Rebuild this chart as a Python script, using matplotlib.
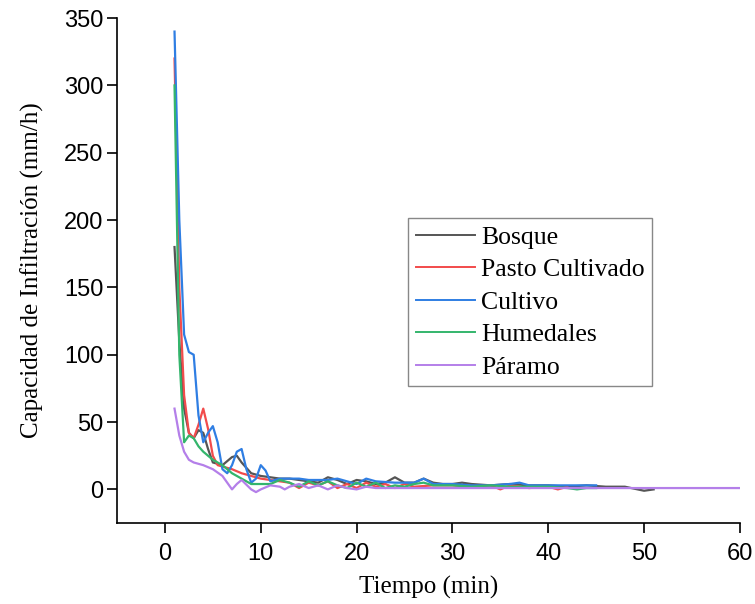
import matplotlib
matplotlib.use("Agg")
import matplotlib.pyplot as plt

# tiempo (min) y capacidad de infiltración (mm/h)
x_bosque = [1, 1.5, 2, 2.5, 3, 3.5, 4, 4.5, 5, 6, 7, 7.5, 8, 9, 10, 11, 12, 13, 14, 15, 16, 17, 18, 19,
            20, 21, 22, 23, 24, 25, 26, 27, 28, 29, 30, 31, 32, 34, 36, 38, 40, 42, 44, 46, 48, 50, 51]
y_bosque = [180, 110, 60, 42, 38, 44, 42, 30, 20, 18, 24, 25, 20, 12, 10, 9, 8, 8, 7, 6, 5, 9, 7, 4,
            7, 6, 4, 5, 9, 5, 5, 8, 5, 4, 4, 5, 4, 3, 4, 3, 3, 2, 3, 2, 2, -1, 0]

x_pasto = [1, 1.5, 2, 2.5, 3, 3.5, 4, 4.5, 5, 5.5, 6, 7, 8, 9, 10, 11, 12, 13, 14, 15, 16, 17, 18, 19,
           20, 21, 22, 23, 24, 25, 26, 28, 30, 32, 34, 35, 36, 38, 40, 41, 42]
y_pasto = [320, 150, 70, 42, 38, 48, 60, 45, 25, 18, 17, 15, 12, 10, 8, 7, 6, 5, 1, 5, 3, 6, 1, 4,
           1, 5, 2, 4, 1, 4, 2, 3, 3, 2, 3, 0, 3, 1, 2, 0, 2]

x_cultivo = [1, 1.5, 2, 2.5, 3, 3.5, 4, 4.5, 5, 5.5, 6, 6.5, 7, 7.5, 8, 8.5, 9, 9.5, 10, 10.5, 11, 12,
             13, 14, 15, 16, 17, 18, 19, 20, 21, 22, 24, 26, 27, 28, 30, 32, 34, 36, 37, 38, 40, 42, 44, 45]
y_cultivo = [340, 200, 115, 102, 100, 55, 35, 42, 47, 35, 15, 12, 18, 28, 30, 15, 5, 8, 18, 14, 6, 8,
             8, 8, 7, 7, 7, 8, 6, 4, 8, 6, 5, 5, 8, 4, 4, 3, 3, 4, 5, 3, 3, 3, 3, 3]

x_humedales = [1, 1.5, 2, 2.5, 3, 3.5, 4, 5, 6, 7, 8, 9, 10, 11, 12, 13, 14, 15, 16, 17, 18, 19, 20,
               21, 22, 23, 24, 25, 26, 27, 28, 30, 32, 34, 36, 38, 40, 42, 43, 44, 45]
y_humedales = [300, 100, 35, 40, 38, 32, 28, 22, 18, 12, 8, 4, 4, 4, 7, 5, 2, 6, 3, 6, 3, 1, 5,
               2, 5, 1, 3, 2, 4, 5, 3, 3, 2, 3, 2, 2, 2, 1, 0, 1, 1]

x_paramo = [1, 1.5, 2, 2.5, 3, 4, 5, 6, 6.5, 7, 7.5, 8, 9, 9.5, 10, 11, 12, 12.5, 13, 14, 15, 16, 17,
            18, 19, 20, 21, 22, 24, 26, 28, 30, 35, 40, 45, 50, 55, 60]
y_paramo = [60, 40, 28, 22, 20, 18, 15, 10, 5, 0, 4, 7, 0, -2, 0, 3, 2, 0, 2, 4, 1, 3, 0,
            3, 1, 0, 2, 1, 1, 1, 1, 1, 1, 1, 1, 1, 1, 1]

series = [
    ("Bosque", x_bosque, y_bosque, "#555555"),
    ("Pasto Cultivado", x_pasto, y_pasto, "#f24b4b"),
    ("Cultivo", x_cultivo, y_cultivo, "#2f7ee3"),
    ("Humedales", x_humedales, y_humedales, "#34b56c"),
    ("Páramo", x_paramo, y_paramo, "#b47fe9"),
]

serif = ["Liberation Serif", "DejaVu Serif"]
narrow = ["Liberation Sans Narrow", "Liberation Sans", "DejaVu Sans"]

fig = plt.figure(figsize=(7.55, 6.04), dpi=100)
ax = fig.add_axes([0.155, 0.134, 0.825, 0.836])

for name, xs, ys, color in series:
    ax.plot(xs, ys, color=color, linewidth=1.6, label=name)

ax.set_xlim(-5, 60)
ax.set_ylim(-25, 350)
ax.set_xticks(range(0, 61, 10))
ax.set_yticks(range(0, 351, 50))

for side in ("top", "right"):
    ax.spines[side].set_visible(False)
for side in ("left", "bottom"):
    ax.spines[side].set_linewidth(1.2)

ax.tick_params(direction="out", length=7, width=1.2, labelsize=17)
ax.tick_params(axis="y", pad=3)
ax.tick_params(axis="x", pad=7)
for lbl in ax.get_xticklabels() + ax.get_yticklabels():
    lbl.set_family(narrow)

ax.set_xlabel("Tiempo (min)", family=serif, fontsize=18, labelpad=8)
ax.set_ylabel("Capacidad de Infiltración (mm/h)", family=serif, fontsize=18, labelpad=14)

leg = ax.legend(loc="upper left", bbox_to_anchor=(0.467, 0.604), borderaxespad=0,
                prop={"family": serif, "size": 18.5}, handlelength=2.3, labelspacing=0.37,
                handletextpad=0.25, borderpad=0.3, fancybox=False, framealpha=1)
leg.get_frame().set_edgecolor("#888888")
leg.get_frame().set_linewidth(1.0)
for line in leg.get_lines():
    line.set_linewidth(1.4)

fig.savefig("out.png", dpi=100, facecolor="white")
